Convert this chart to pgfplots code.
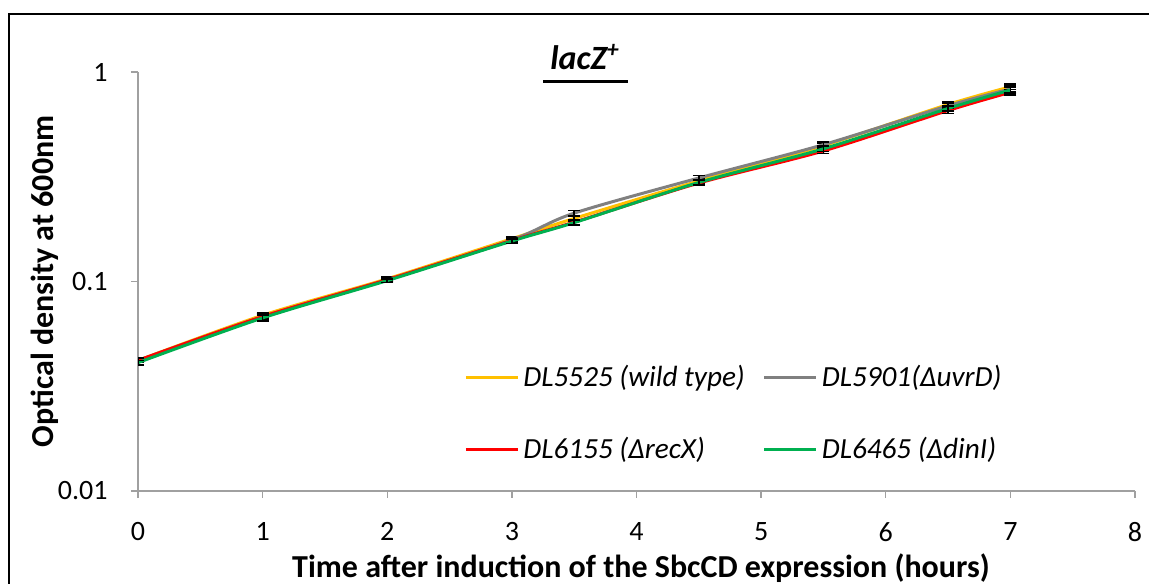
\documentclass[border=0pt]{standalone}
\usepackage{pgfplots}
\pgfplotsset{compat=1.18}
\usepackage{fontspec}
\setmainfont{Carlito}
\definecolor{cY}{RGB}{255,192,0}
\definecolor{cG}{RGB}{128,128,128}
\definecolor{cR}{RGB}{255,0,0}
\definecolor{cN}{RGB}{0,176,80}
\definecolor{axgray}{RGB}{160,160,160}
\begin{document}
\begin{tikzpicture}[x=1pt,y=1pt]
\useasboundingbox (0,0) rectangle (574.5,291.5);
\draw[line width=1pt] (4.5,-5) -- (4.5,284.5) -- (580,284.5);
\node[anchor=base, inner sep=0pt, font=\fontsize{17}{20}\selectfont\bfseries\itshape] at (292.5,256.5) {lacZ\textsuperscript{+}};
\draw[line width=1.5pt] (271.5,250.5) -- (314,250.5);
\begin{axis}[
  at={(69pt,46pt)}, anchor=south west,
  scale only axis, width=498.5pt, height=209.5pt,
  ymode=log, xmin=0, xmax=8, ymin=0.01, ymax=1,
  axis lines=left, axis line style={-, draw=axgray, line width=0.7pt},
  xtick={0,1,2,3,4,5,6,7,8}, ytick={0.01,0.1,1}, yticklabels={0.01,0.1,1},
  tick align=outside, major tick length=3.5pt,
  tick style={draw=axgray, line width=0.7pt},
  minor tick style={draw=none},
  /pgf/number format/assume math mode=true,
  ticklabel style={font=\fontsize{14}{16}\selectfont},
  xticklabel style={inner sep=0pt, anchor=north, yshift=-12pt},
  yticklabel style={inner sep=0pt, anchor=east, xshift=-11.5pt},
  xlabel={Time after induction of the SbcCD expression (hours)},
  ylabel={Optical density at 600nm},
  label style={font=\fontsize{16}{18}\selectfont\bfseries},
  xlabel style={at={(axis description cs:0.5045,-0.184)}, anchor=center},
  ylabel style={at={(axis description cs:-0.0933,0.5)}, anchor=center},
  legend columns=2,
  legend cell align=left,
  legend style={draw=none, fill=none, inner sep=0pt,
    at={(axis description cs:0.327,0.311)}, anchor=north west,
    font=\fontsize{14.6}{16}\selectfont\itshape,
    row sep=20pt,
    /tikz/every even column/.append style={column sep=7pt}},
  legend image code/.code={\draw[#1, line width=1.5pt] (0pt,0pt) -- (26pt,0pt);},
  every axis plot/.append style={line width=1.5pt, smooth, tension=0.5,
    /pgfplots/error bars/y dir=both, /pgfplots/error bars/y explicit,
    /pgfplots/error bars/error bar style={black, line width=0.8pt},
    /pgfplots/error bars/error mark options={black, rotate=90, mark size=3pt, line width=0.8pt}},
]
\addplot[cY] coordinates {(0,0.042)+-(0,0.001) (1,0.069)+-(0,0.002) (2,0.103)+-(0,0.002) (3,0.160)+-(0,0.004) (3.5,0.200)+-(0,0.005) (4.5,0.302)+-(0,0.008) (5.5,0.445)+-(0,0.012) (6.5,0.70)+-(0,0.02) (7,0.85)+-(0,0.025)};
\addlegendentry{DL5525 (wild type)}
\addplot[cG] coordinates {(0,0.042)+-(0,0.001) (1,0.068)+-(0,0.002) (2,0.102)+-(0,0.002) (3,0.158)+-(0,0.004) (3.5,0.212)+-(0,0.006) (4.5,0.312)+-(0,0.008) (5.5,0.450)+-(0,0.012) (6.5,0.69)+-(0,0.02) (7,0.83)+-(0,0.025)};
\addlegendentry{DL5901(ΔuvrD)}
\addplot[cR] coordinates {(0,0.042)+-(0,0.001) (1,0.068)+-(0,0.002) (2,0.102)+-(0,0.002) (3,0.157)+-(0,0.004) (3.5,0.192)+-(0,0.005) (4.5,0.295)+-(0,0.008) (5.5,0.420)+-(0,0.012) (6.5,0.655)+-(0,0.02) (7,0.80)+-(0,0.025)};
\addlegendentry{DL6155 (ΔrecX)}
\addplot[cN] coordinates {(0,0.041)+-(0,0.001) (1,0.067)+-(0,0.002) (2,0.101)+-(0,0.002) (3,0.156)+-(0,0.004) (3.5,0.191)+-(0,0.005) (4.5,0.297)+-(0,0.008) (5.5,0.430)+-(0,0.012) (6.5,0.67)+-(0,0.02) (7,0.82)+-(0,0.025)};
\addlegendentry{DL6465 (ΔdinI)}
\end{axis}
\end{tikzpicture}
\end{document}
